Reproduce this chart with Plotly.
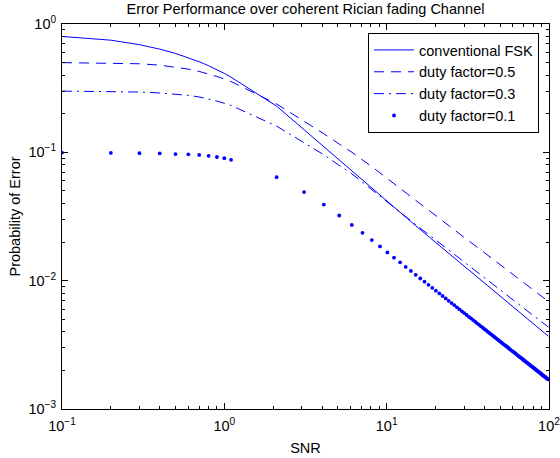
import plotly.graph_objects as go

# ---- data ----
SNR_LINE = [0.1, 0.2, 0.3, 0.4, 0.5, 0.6, 0.7, 0.8, 0.9, 1.0, 1.1,
            2.1, 3.1, 4.1, 5.1, 6.1, 8.1, 10.1, 15.1, 20.1, 30.1,
            40.1, 50.1, 60.1, 70.1, 80.1, 90.1, 99.1]

PE_CONV = [0.80, 0.748, 0.69, 0.637, 0.59, 0.548, 0.508, 0.473, 0.441, 0.412, 0.385,
           0.229, 0.150, 0.1107, 0.0874, 0.0720, 0.0524, 0.0409, 0.0268, 0.0198, 0.01294,
           0.00957, 0.00757, 0.00624, 0.00531, 0.00461, 0.00408, 0.00369]

PE_D05 = [0.50, 0.497, 0.49, 0.478, 0.462, 0.445, 0.427, 0.408, 0.39, 0.372, 0.356,
          0.238, 0.176, 0.1397, 0.116, 0.1002, 0.0773, 0.0623, 0.0423, 0.0321, 0.0217,
          0.01648, 0.0133, 0.01115, 0.00962, 0.00846, 0.00755, 0.00689]

PE_D03 = [0.30, 0.298, 0.295, 0.29, 0.284, 0.278, 0.27, 0.261, 0.251, 0.241, 0.232,
          0.16, 0.119, 0.0957, 0.0791, 0.0681, 0.0512, 0.0409, 0.0273, 0.0207, 0.01403,
          0.01057, 0.00847, 0.00707, 0.00607, 0.00532, 0.00473, 0.00435]

SNR_DOT = [0.1, 0.2, 0.3, 0.4, 0.5, 0.6, 0.7, 0.8, 0.9, 1.0, 1.1,
           2.1, 3.1, 4.1, 5.1, 6.1, 7.1, 8.1, 9.1, 10.1,
           11.1, 12.1, 13.1, 14.1, 15.1, 16.1, 17.1, 18.1, 19.1, 20.1,
           21.1, 22.1, 23.1, 24.1, 25.1, 26.1, 27.1, 28.1, 29.1, 30.1,
           31.1, 32.1, 33.1, 34.1, 35.1, 36.1, 37.1, 38.1, 39.1, 40.1,
           41.1, 42.1, 43.1, 44.1, 45.1, 46.1, 47.1, 48.1, 49.1, 50.1,
           51.1, 52.1, 53.1, 54.1, 55.1, 56.1, 57.1, 58.1, 59.1, 60.1,
           61.1, 62.1, 63.1, 64.1, 65.1, 66.1, 67.1, 68.1, 69.1, 70.1,
           71.1, 72.1, 73.1, 74.1, 75.1, 76.1, 77.1, 78.1, 79.1, 80.1,
           81.1, 82.1, 83.1, 84.1, 85.1, 86.1, 87.1, 88.1, 89.1, 90.1,
           91.1, 92.1, 93.1, 94.1, 95.1, 96.1, 97.1, 98.1, 99.1]

PE_D01 = [0.0995, 0.099, 0.0985, 0.098, 0.097, 0.0965, 0.0955, 0.094, 0.092, 0.090, 0.0875,
          0.0640, 0.0490, 0.0392, 0.0322, 0.0272, 0.0236, 0.0207, 0.0185, 0.0166,
          0.0151, 0.0139, 0.0128, 0.0119, 0.0111, 0.0104, 0.00982, 0.00928, 0.00880, 0.00836,
          0.00796, 0.00760, 0.00727, 0.00697, 0.00669, 0.00644, 0.00620, 0.00598, 0.00577, 0.00558,
          0.00540, 0.00523, 0.00508, 0.00493, 0.00479, 0.00465, 0.00453, 0.00441, 0.00430, 0.00419,
          0.00409, 0.00399, 0.00390, 0.00381, 0.00373, 0.00364, 0.00357, 0.00349, 0.00342, 0.00335,
          0.00329, 0.00322, 0.00316, 0.00311, 0.00305, 0.00300, 0.00294, 0.00289, 0.00284, 0.00280,
          0.00275, 0.00271, 0.00266, 0.00262, 0.00258, 0.00254, 0.00251, 0.00247, 0.00243, 0.00240,
          0.00236, 0.00233, 0.00230, 0.00227, 0.00224, 0.00221, 0.00218, 0.00215, 0.00213, 0.00210,
          0.00207, 0.00205, 0.00202, 0.00200, 0.00198, 0.00195, 0.00193, 0.00191, 0.00189, 0.00186,
          0.00184, 0.00182, 0.00180, 0.00179, 0.00177, 0.00175, 0.00173, 0.00171, 0.00170]

X_TICKS = [0.1, 1, 10, 100]
X_TICKTEXT = ["10<sup>\u22121</sup>", "10<sup>0</sup>", "10<sup>1</sup>", "10<sup>2</sup>"]
Y_TICKS = [0.001, 0.01, 0.1, 1]
Y_TICKTEXT = ["10<sup>\u22123</sup>", "10<sup>\u22122</sup>", "10<sup>\u22121</sup>", "10<sup>0</sup>"]

NAMES = ["conventional FSK", "duty factor=0.5", "duty factor=0.3", "duty factor=0.1"]

BLUE = "#0000FF"
FONT = "Liberation Sans, Arial, Helvetica, sans-serif"
FS = 14.5

fig = go.Figure()
fig.add_trace(go.Scatter(x=SNR_LINE, y=PE_CONV, mode="lines", name=NAMES[0],
                         line=dict(color=BLUE, width=1)))
fig.add_trace(go.Scatter(x=SNR_LINE, y=PE_D05, mode="lines", name=NAMES[1],
                         line=dict(color=BLUE, width=1, dash="10px,7px")))
fig.add_trace(go.Scatter(x=SNR_LINE, y=PE_D03, mode="lines", name=NAMES[2],
                         line=dict(color=BLUE, width=1, dash="10px,5px,2px,5px")))
fig.add_trace(go.Scatter(x=SNR_DOT, y=PE_D01, mode="markers", name=NAMES[3],
                         marker=dict(color=BLUE, size=3.8, line=dict(width=0))))

axis_common = dict(
    type="log", automargin=False, ticklabeloverflow="allow",
    showline=True, linecolor="black", linewidth=1, mirror="ticks",
    ticks="inside", ticklen=6, tickcolor="black", tickwidth=1,
    showgrid=False, zeroline=False,
    tickfont=dict(family=FONT, size=FS, color="black"),
    minor=dict(ticks="inside", ticklen=3, tickcolor="black", tickwidth=1,
               dtick="D1", showgrid=False),
)

fig.update_layout(
    width=560, height=458,
    margin=dict(l=62, r=11, t=24, b=49, pad=0, autoexpand=False),
    paper_bgcolor="white", plot_bgcolor="white",
    font=dict(family=FONT, size=FS, color="black"),
    title=dict(text="Error Performance over coherent Rician fading Channel",
               x=0.5, xref="paper", xanchor="center",
               y=1 - 9 / 458, yref="container", yanchor="middle",
               font=dict(family=FONT, size=FS, color="black")),
    xaxis=dict(axis_common, range=[-1, 2], tickvals=X_TICKS, ticktext=X_TICKTEXT,
               ticklabelstandoff=4,
               title=dict(text="SNR", standoff=9,
                          font=dict(family=FONT, size=FS, color="black"))),
    yaxis=dict(axis_common, range=[-3, 0], tickvals=Y_TICKS, ticktext=Y_TICKTEXT,
               ticklabelstandoff=2,
               title=dict(text="Probability of Error", standoff=4,
                          font=dict(family=FONT, size=FS, color="black"))),
    legend=dict(x=(539 - 62) / 487, y=(409 - 33) / 385, xanchor="right", yanchor="top",
                bgcolor="white", bordercolor="black", borderwidth=1,
                font=dict(family=FONT, size=FS, color="black"),
                itemwidth=40, tracegroupgap=0),
    showlegend=True,
)

fig.write_html("out.html")
